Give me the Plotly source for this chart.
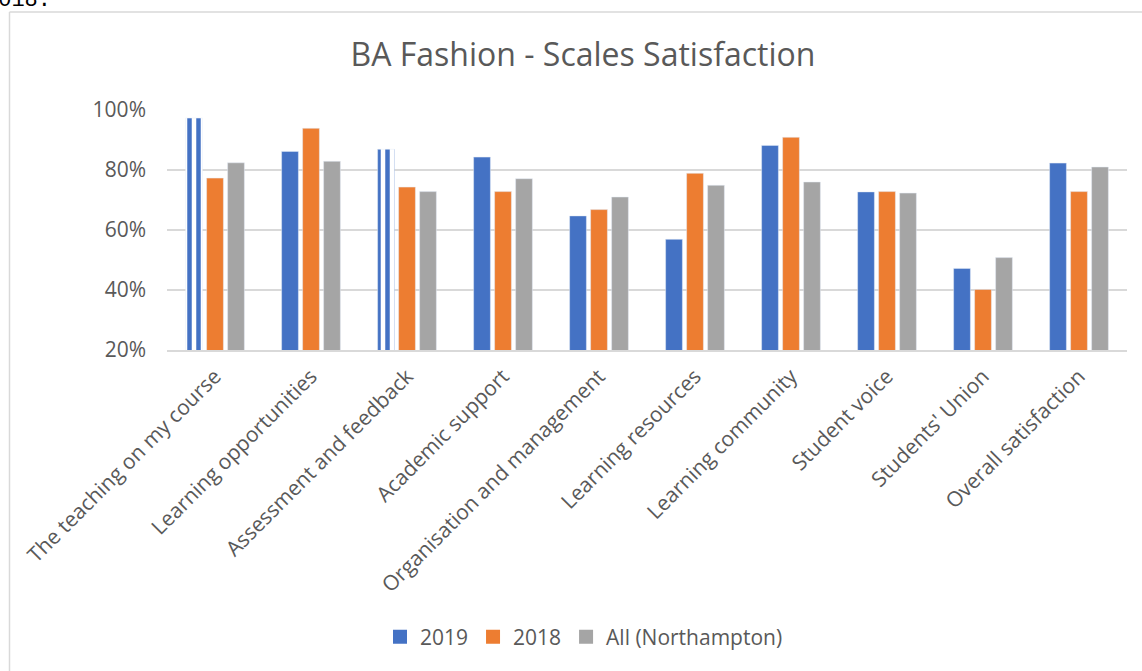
import plotly.graph_objects as go

categories = ["The teaching on my course", "Learning opportunities", "Assessment and feedback",
              "Academic support", "Organisation and management", "Learning resources",
              "Learning community", "Student voice", "Students' Union", "Overall satisfaction"]
v2019 = [97.3, 86.2, 86.9, 84.3, 64.7, 56.9, 88.2, 72.7, 47.2, 82.3]
v2018 = [77.3, 93.9, 74.3, 72.8, 66.8, 78.9, 90.9, 72.8, 40.2, 72.8]
vall = [82.4, 82.9, 72.8, 77.1, 71.0, 74.9, 76.0, 72.3, 50.8, 81.0]
striped_2019 = [True, False, True, False, False, False, False, False, False, False]
series_names = ["2019", "2018", "All (Northampton)"]
yticks = [20, 40, 60, 80, 100]
ytick_text = ["20%", "40%", "60%", "80%", "100%"]

W, H = 1142, 671
L, R, T, B = 167, 15, 110, 321
pw, ph = W - L - R, H - T - B

def px_x(px):
    return (px - L) / pw

def px_y(py):
    return (H - B - py) / ph

FONT = "Open Sans"
TXT = "#595959"
BLUE, ORANGE, GRAY = "#4472C4", "#ED7D31", "#A5A5A5"
COLORS = [BLUE, ORANGE, GRAY]

solid_2019 = [None if s else v for v, s in zip(v2019, striped_2019)]
stripe_2019 = [v if s else None for v, s in zip(v2019, striped_2019)]

fig = go.Figure()
fig.add_trace(go.Bar(x=categories, y=solid_2019, name=series_names[0], offsetgroup="a",
                     showlegend=False, marker=dict(color=BLUE)))
fig.add_trace(go.Bar(x=categories, y=stripe_2019, name=series_names[0], offsetgroup="a",
                     showlegend=False,
                     marker=dict(color=BLUE,
                                 pattern=dict(shape="|", fgcolor=BLUE, bgcolor="white",
                                              fgopacity=1, size=9, solidity=0.5))))
fig.add_trace(go.Bar(x=categories, y=v2018, name=series_names[1], offsetgroup="b",
                     showlegend=False, marker=dict(color=ORANGE)))
fig.add_trace(go.Bar(x=categories, y=vall, name=series_names[2], offsetgroup="c",
                     showlegend=False, marker=dict(color=GRAY)))
# legend entries with square swatches
for nm, col in zip(series_names, COLORS):
    fig.add_trace(go.Scatter(x=[None], y=[None], mode="markers", name=nm,
                             marker=dict(symbol="square", size=14, color=col)))

fig.update_layout(
    width=W, height=H,
    margin=dict(l=L, r=R, t=T, b=B, pad=0),
    paper_bgcolor="white", plot_bgcolor="white",
    barmode="group", bargap=0.344, bargroupgap=0.2,
    font=dict(family=FONT, color=TXT),
    title=dict(text="BA Fashion - Scales Satisfaction", x=583 / W, xanchor="center",
               y=1 - 55 / H, yanchor="middle", font=dict(family=FONT, size=32, color=TXT)),
    legend=dict(orientation="h", xref="container", yref="container",
                x=584 / W, xanchor="center", y=1 - 637 / H, yanchor="middle",
                font=dict(family=FONT, size=21, color=TXT), itemwidth=30,
                traceorder="normal"),
    showlegend=True,
)
fig.update_yaxes(range=[20, 100], tickvals=yticks, ticktext=ytick_text,
                 showgrid=True, gridcolor="#D9D9D9", gridwidth=1.5,
                 zeroline=False, showline=False, ticks="",
                 tickfont=dict(family=FONT, size=21, color=TXT), ticklabelstandoff=20)
fig.update_xaxes(tickangle=-45, showline=True, linecolor="#D9D9D9", linewidth=1.5,
                 showgrid=False, ticks="", ticklabelstandoff=4,
                 tickfont=dict(family=FONT, size=21, color=TXT))

# chart-area frame (left and top edges visible)
fig.add_shape(type="line", xref="paper", yref="paper", x0=px_x(9.5), x1=px_x(9.5),
              y0=px_y(12), y1=px_y(H + 5), line=dict(color="#D9D9D9", width=1.5))
fig.add_shape(type="line", xref="paper", yref="paper", x0=px_x(9.5), x1=px_x(W + 5),
              y0=px_y(12), y1=px_y(12), line=dict(color="#D9D9D9", width=1.5))

# cropped document text at top-left
fig.add_annotation(text="2018.", xref="paper", yref="paper", x=px_x(-17), y=px_y(0),
                   xanchor="left", yanchor="middle", showarrow=False,
                   font=dict(family="Liberation Mono", size=22, color="black"))

fig.write_html("out.html", config={"displayModeBar": False},
               post_script="document.body.style.margin='0';")
